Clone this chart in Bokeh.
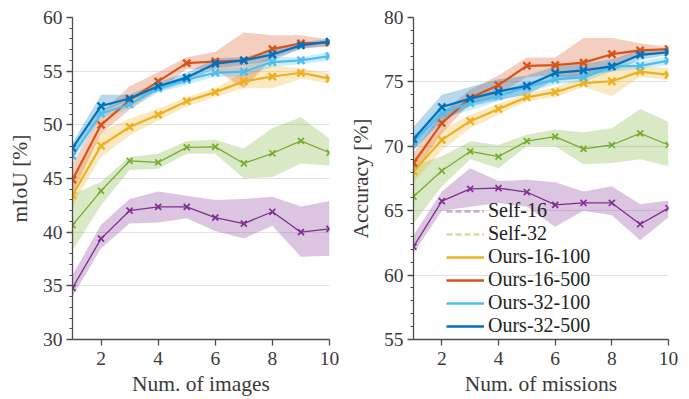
import numpy as np
from bokeh.plotting import figure
from bokeh.layouts import row
from bokeh.models import (ColumnDataSource, SingleIntervalTicker, FixedTicker,
                          Legend, LegendItem, Range1d)
from bokeh.embed import file_html
from bokeh.resources import INLINE

x = [1, 2, 3, 4, 5, 6, 7, 8, 9, 10]
x_ticks = [2, 4, 6, 8, 10]
series_names = ["Self-16", "Self-32", "Ours-16-100", "Ours-16-500", "Ours-32-100", "Ours-32-500"]
colors = ["#7E2F8E", "#77AC30", "#EDB120", "#D95319", "#4DBEEE", "#0072BD"]

# ---- left panel: mIoU vs number of images ----
img_self16 = [34.8, 39.4, 42.0, 42.35, 42.35, 41.35, 40.8, 41.9, 40.0, 40.3]
img_self16_lo = [34.0, 38.5, 40.8, 40.9, 41.3, 40.1, 39.4, 40.6, 37.7, 37.8]
img_self16_hi = [36.0, 40.7, 43.1, 43.8, 43.4, 43.0, 43.1, 43.3, 42.4, 42.9]

img_self32 = [40.65, 43.85, 46.65, 46.5, 47.9, 47.95, 46.4, 47.35, 48.5, 47.4]
img_self32_lo = [38.3, 42.5, 45.8, 45.9, 47.3, 47.3, 45.0, 45.15, 46.4, 46.2]
img_self32_hi = [43.5, 44.7, 47.0, 47.3, 48.5, 48.6, 47.8, 49.7, 50.7, 48.7]

img_o16_100 = [43.45, 48.05, 49.8, 50.95, 52.2, 53.05, 54.05, 54.5, 54.85, 54.3]
img_o16_100_lo = [42.5, 47.0, 49.0, 50.4, 51.7, 52.6, 53.4, 53.4, 54.3, 53.85]
img_o16_100_hi = [45.2, 49.35, 50.6, 51.5, 52.6, 53.4, 54.9, 55.55, 55.25, 54.8]

img_o16_500 = [44.9, 50.0, 52.3, 54.05, 55.75, 55.9, 56.0, 57.05, 57.6, 57.65]
img_o16_500_lo = [43.6, 49.2, 51.4, 53.2, 55.2, 55.1, 53.4, 56.2, 57.1, 57.3]
img_o16_500_hi = [46.4, 51.05, 53.6, 54.9, 56.3, 56.8, 58.6, 58.35, 58.35, 57.95]

img_o32_100 = [47.1, 51.05, 51.9, 53.4, 54.2, 54.85, 54.95, 55.85, 56.0, 56.4]
img_o32_100_lo = [46.7, 50.6, 51.5, 53.0, 53.7, 54.5, 54.5, 55.4, 55.65, 56.0]
img_o32_100_hi = [47.6, 51.5, 52.3, 53.7, 54.6, 55.25, 55.4, 56.3, 56.3, 56.8]

img_o32_500 = [47.85, 51.75, 52.45, 53.6, 54.4, 55.7, 56.0, 56.55, 57.4, 57.75]
img_o32_500_lo = [47.3, 51.2, 52.3, 53.1, 54.0, 55.25, 55.55, 56.0, 57.1, 57.4]
img_o32_500_hi = [48.3, 52.8, 52.8, 54.0, 54.85, 56.2, 56.3, 56.95, 57.7, 58.0]

# ---- right panel: accuracy vs number of missions ----
mis_self16 = [62.2, 65.75, 66.7, 66.75, 66.45, 65.45, 65.6, 65.6, 63.95, 65.2]
mis_self16_lo = [61.7, 65.0, 65.3, 65.6, 65.3, 63.75, 65.0, 64.65, 62.7, 64.5]
mis_self16_hi = [63.1, 66.5, 68.3, 67.3, 67.4, 67.2, 66.5, 66.9, 65.5, 65.8]

mis_self32 = [66.1, 68.1, 69.6, 69.2, 70.4, 70.75, 69.8, 70.1, 71.0, 70.1]
mis_self32_lo = [64.0, 66.9, 69.0, 68.3, 70.0, 70.0, 68.6, 68.7, 69.0, 68.45]
mis_self32_hi = [68.5, 69.2, 70.4, 70.1, 70.9, 71.3, 71.1, 71.4, 72.9, 71.9]

mis_o16_100 = [68.05, 70.5, 71.95, 72.9, 73.8, 74.2, 74.9, 75.05, 75.8, 75.55]
mis_o16_100_lo = [67.2, 69.7, 71.4, 72.45, 73.5, 73.8, 74.6, 73.9, 75.4, 75.15]
mis_o16_100_hi = [69.0, 71.3, 72.45, 73.3, 74.1, 74.6, 75.3, 76.1, 76.2, 76.1]

mis_o16_500 = [68.7, 71.8, 73.75, 74.75, 76.25, 76.3, 76.5, 77.15, 77.45, 77.55]
mis_o16_500_lo = [67.9, 71.0, 73.35, 74.0, 75.4, 75.5, 75.15, 76.2, 77.0, 77.2]
mis_o16_500_hi = [69.5, 72.6, 74.4, 75.5, 76.9, 76.9, 78.4, 78.4, 78.0, 77.7]

mis_o32_100 = [70.3, 72.6, 73.35, 73.9, 74.6, 75.2, 75.35, 76.2, 76.25, 76.65]
mis_o32_100_lo = [69.7, 72.2, 72.8, 73.5, 74.1, 74.8, 75.0, 75.8, 76.05, 76.3]
mis_o32_100_hi = [70.9, 72.8, 73.7, 74.25, 75.0, 75.5, 75.7, 76.4, 76.6, 77.0]

mis_o32_500 = [70.55, 73.05, 73.7, 74.25, 74.7, 75.7, 75.9, 76.2, 77.1, 77.3]
mis_o32_500_lo = [69.7, 71.9, 73.1, 73.6, 74.0, 75.15, 75.5, 75.8, 76.7, 77.1]
mis_o32_500_hi = [71.5, 74.0, 74.6, 75.2, 75.5, 76.2, 76.4, 76.75, 77.5, 77.6]

FONT = "Liberation Serif"
TXT = "#3a3a3a"
AX = "#4d4d4d"


def make_panel(width, border_left, border_right, y_range, xlabel, ylabel, data):
    p = figure(width=width, height=399, output_backend="svg", toolbar_location=None,
               x_range=Range1d(1, 10), y_range=Range1d(*y_range),
               min_border_left=border_left, min_border_right=border_right,
               min_border_top=17, min_border_bottom=60)
    p.outline_line_color = None
    p.xgrid.grid_line_color = None
    p.ygrid.grid_line_color = "#e3e3e3"
    p.ygrid.grid_line_width = 1.2
    p.yaxis.ticker = SingleIntervalTicker(interval=5, num_minor_ticks=5)
    p.xaxis.ticker = FixedTicker(ticks=x_ticks, minor_ticks=[])
    for ax in (p.xaxis[0], p.yaxis[0]):
        ax.axis_line_color = AX
        ax.axis_line_width = 1.3
        ax.major_tick_line_color = AX
        ax.minor_tick_line_color = AX
        ax.major_tick_line_width = 1.3
        ax.major_tick_in = 0
        ax.major_tick_out = 6
        ax.minor_tick_in = 0
        ax.minor_tick_out = 3
        ax.major_label_text_font = FONT
        ax.major_label_text_font_size = "19.5px"
        ax.major_label_text_color = TXT
        ax.axis_label_text_font = FONT
        ax.axis_label_text_font_size = "21.5px"
        ax.axis_label_text_font_style = "normal"
        ax.axis_label_text_color = TXT
    p.xaxis.minor_tick_line_color = None
    p.xaxis.axis_label = xlabel
    p.yaxis.axis_label = ylabel
    p.xaxis.major_label_standoff = 6
    p.yaxis.major_label_standoff = 4
    p.xaxis.axis_label_standoff = 4
    p.yaxis.axis_label_standoff = 8

    for (mean, lo, hi), c in zip(data, colors):
        p.varea(x=x, y1=lo, y2=hi, fill_color=c, fill_alpha=0.28)
    for i, ((mean, lo, hi), c) in enumerate(zip(data, colors)):
        ours = i >= 2
        src = ColumnDataSource(dict(x=x, y=mean))
        p.line("x", "y", source=src, line_color=c, line_width=2.2 if ours else 1.3)
        p.scatter("x", "y", source=src, marker="x", size=10 if ours else 8.5,
                  line_color=c, line_width=2.4 if ours else 1.7)
    return p


left_data = [(img_self16, img_self16_lo, img_self16_hi),
             (img_self32, img_self32_lo, img_self32_hi),
             (img_o16_100, img_o16_100_lo, img_o16_100_hi),
             (img_o16_500, img_o16_500_lo, img_o16_500_hi),
             (img_o32_100, img_o32_100_lo, img_o32_100_hi),
             (img_o32_500, img_o32_500_lo, img_o32_500_hi)]
right_data = [(mis_self16, mis_self16_lo, mis_self16_hi),
              (mis_self32, mis_self32_lo, mis_self32_hi),
              (mis_o16_100, mis_o16_100_lo, mis_o16_100_hi),
              (mis_o16_500, mis_o16_500_lo, mis_o16_500_hi),
              (mis_o32_100, mis_o32_100_lo, mis_o32_100_hi),
              (mis_o32_500, mis_o32_500_lo, mis_o32_500_hi)]

p1 = make_panel(345, 72, 16, (30, 60), "Num. of images", "mIoU [%]", left_data)
p2 = make_panel(344, 66, 21, (55, 80), "Num. of missions", "Accuracy [%]", right_data)

# legend entries (dummy renderers carrying only the legend style)
items = []
for i, (name, c) in enumerate(zip(series_names, colors)):
    src = ColumnDataSource(dict(x=[np.nan], y=[np.nan]))
    if i < 2:
        r = p2.line("x", "y", source=src, line_color=c, line_alpha=0.4,
                    line_width=2.5, line_dash="6 3")
    else:
        r = p2.line("x", "y", source=src, line_color=c, line_width=2.5)
    items.append(LegendItem(label=name, renderers=[r]))

legend = Legend(items=items, location=(33, 2), background_fill_alpha=0,
                border_line_color=None, label_text_font=FONT,
                label_text_font_size="20px", label_text_color="#222222",
                glyph_width=38, glyph_height=20, label_standoff=4,
                spacing=0, padding=0, margin=0, label_height=20)
p2.add_layout(legend, "center")

layout = row(p1, p2)
open("out.html", "w").write(file_html(layout, INLINE))
